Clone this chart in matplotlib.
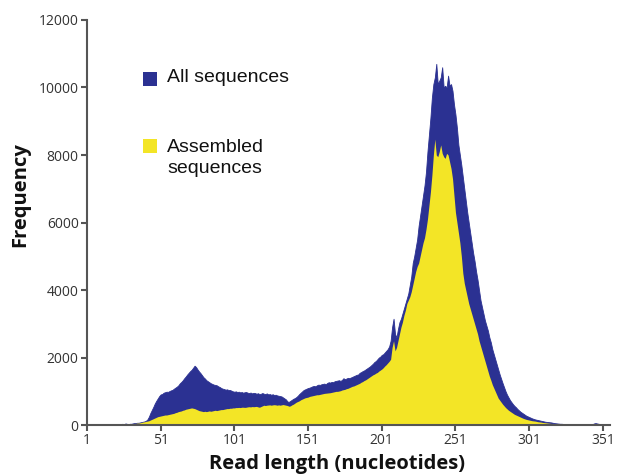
import numpy as np
import matplotlib.pyplot as plt
from matplotlib.patches import Rectangle

# read length histogram (nucleotides 20..350)
read_length = np.arange(20, 351)

all_sequences = [
    0, 0, 0, 0, 0, 40, 0, 50, 40, 0,
    40, 40, 50, 60, 60, 70, 70, 80, 90, 100,
    110, 130, 170, 250, 360, 450, 540, 640, 720, 790,
    860, 910, 920, 960, 975, 990, 985, 1010, 1030, 1045,
    1080, 1110, 1140, 1180, 1240, 1280, 1330, 1390, 1440, 1500,
    1550, 1600, 1640, 1700, 1760, 1720, 1650, 1590, 1540, 1480,
    1420, 1380, 1330, 1300, 1270, 1240, 1220, 1200, 1190, 1180,
    1150, 1130, 1100, 1080, 1070, 1050, 1060, 1040, 1040, 1020,
    1000, 990, 1000, 980, 990, 970, 980, 960, 975, 980,
    960, 950, 965, 940, 955, 950, 930, 945, 920, 930,
    950, 930, 920, 940, 910, 920, 900, 915, 890, 900,
    880, 870, 860, 850, 820, 790, 760, 700, 690, 720,
    750, 780, 800, 830, 870, 920, 960, 1000, 1040, 1060,
    1080, 1100, 1110, 1130, 1150, 1160, 1150, 1180, 1200, 1190,
    1210, 1220, 1230, 1210, 1250, 1270, 1260, 1280, 1270, 1300,
    1310, 1320, 1330, 1310, 1340, 1390, 1360, 1380, 1400, 1390,
    1410, 1430, 1450, 1470, 1490, 1500, 1550, 1570, 1600, 1620,
    1650, 1680, 1710, 1740, 1780, 1820, 1870, 1900, 1950, 2000,
    2030, 2080, 2100, 2150, 2200, 2250, 2330, 2500, 2900, 3150,
    2700, 2600, 2850, 3050, 3150, 3300, 3450, 3600, 3750, 3900,
    4150, 4400, 4800, 5000, 5250, 5500, 5900, 6200, 6500, 6800,
    7100, 7500, 8100, 8600, 9100, 9700, 10100, 10300, 10700, 10100,
    10200, 10300, 10600, 10000, 10050, 10000, 10350, 10050, 10100, 9900,
    9500, 9200, 8800, 8300, 8000, 7700, 7350, 7000, 6650, 6300,
    6000, 5700, 5400, 5100, 4850, 4550, 4300, 4000, 3700, 3500,
    3300, 3100, 2950, 2800, 2600, 2450, 2250, 2100, 1950, 1800,
    1650, 1500, 1370, 1240, 1120, 1000, 900, 820, 740, 680,
    620, 570, 530, 480, 440, 400, 370, 340, 310, 280,
    260, 240, 220, 200, 185, 170, 160, 150, 140, 130,
    120, 110, 100, 95, 90, 85, 80, 70, 60, 55,
    50, 45, 40, 40, 35, 30, 30, 25, 25, 20,
    20, 20, 20, 20, 20, 20, 20, 20, 20, 20,
    20, 20, 20, 20, 30, 50, 60, 50, 40, 30, 20,
]

assembled_sequences = [
    0, 0, 0, 0, 0, 10, 10, 20, 20, 30,
    30, 40, 40, 50, 50, 60, 60, 70, 80, 90,
    100, 110, 120, 130, 150, 170, 190, 210, 230, 250,
    260, 270, 280, 290, 300, 300, 310, 320, 330, 340,
    350, 370, 380, 400, 410, 420, 440, 450, 470, 480,
    490, 500, 510, 500, 490, 470, 450, 430, 420, 410,
    400, 410, 400, 410, 420, 410, 420, 430, 440, 430,
    440, 450, 460, 460, 470, 480, 490, 490, 500, 500,
    510, 510, 520, 520, 525, 520, 530, 530, 525, 530,
    540, 545, 540, 550, 545, 550, 555, 540, 530, 550,
    570, 590, 580, 590, 595, 600, 590, 600, 605, 600,
    590, 600, 590, 600, 610, 600, 590, 580, 560, 570,
    600, 620, 650, 680, 700, 720, 750, 770, 790, 810,
    820, 830, 850, 860, 870, 880, 890, 900, 900, 910,
    920, 930, 940, 945, 950, 955, 960, 970, 980, 990,
    1000, 1000, 1010, 1020, 1040, 1050, 1060, 1080, 1090, 1110,
    1130, 1150, 1160, 1180, 1200, 1220, 1240, 1270, 1290, 1320,
    1340, 1370, 1400, 1430, 1460, 1490, 1510, 1540, 1560, 1600,
    1630, 1660, 1700, 1750, 1790, 1840, 1890, 1950, 2300, 2500,
    2200, 2300, 2500, 2700, 2900, 3050, 3250, 3400, 3600, 3700,
    3800, 3950, 4150, 4350, 4550, 4700, 4800, 5000, 5200, 5400,
    5550, 5800, 6100, 6500, 6900, 7400, 8000, 8470, 8000, 7950,
    8100, 8300, 8050, 7950, 7900, 8050, 8000, 7800, 7600, 7300,
    6800, 6300, 6000, 5700, 5400, 5000, 4500, 4200, 4000, 3800,
    3600, 3450, 3300, 3150, 3000, 2850, 2700, 2500, 2350, 2200,
    2050, 1900, 1750, 1600, 1450, 1330, 1200, 1100, 1000, 900,
    800, 740, 680, 620, 570, 520, 480, 440, 410, 380,
    350, 320, 300, 280, 260, 240, 220, 200, 185, 170,
    160, 150, 140, 130, 125, 120, 110, 100, 95, 90,
    80, 75, 70, 65, 60, 55, 50, 45, 40, 40,
    35, 30, 30, 30, 25, 25, 20, 20, 20, 20,
    20, 20, 20, 20, 20, 20, 20, 20, 20, 20,
    20, 20, 20, 20, 20, 20, 20, 20, 20, 20, 20,
]

x_ticks = [1, 51, 101, 151, 201, 251, 301, 351]
y_ticks = [0, 2000, 4000, 6000, 8000, 10000, 12000]

blue = '#2b3192'
yellow = '#f3e526'
axis_grey = '#555555'

fig = plt.figure(figsize=(6.17, 4.75), dpi=100)
ax = fig.add_axes([0.141, 0.105, 0.848, 0.853])

ax.fill_between(read_length, 0, all_sequences, color=blue, lw=0.6, edgecolor=blue)
ax.fill_between(read_length, 0, assembled_sequences, color=yellow, lw=0)

ax.set_xlim(1, 356)
ax.set_ylim(0, 12000)
ax.set_xticks(x_ticks)
ax.set_yticks(y_ticks)
ax.set_xticklabels([str(t) for t in x_ticks], fontsize=10, family='Open Sans', color='#333333')
ax.set_yticklabels([str(t) for t in y_ticks], fontsize=10, family='Open Sans', color='#333333')
ax.tick_params(direction='out', length=4, width=1.5, color=axis_grey, pad=2)

for side in ['top', 'right']:
    ax.spines[side].set_visible(False)
for side in ['left', 'bottom']:
    ax.spines[side].set_color(axis_grey)
    ax.spines[side].set_linewidth(1.5)

# legend drawn by hand (squares + text)
ax.add_patch(Rectangle((0.107, 0.837), 0.027, 0.035, transform=ax.transAxes,
                       color=blue, lw=0, clip_on=False))
ax.text(0.153, 0.857, 'All sequences', transform=ax.transAxes, fontsize=14,
        family='Liberation Sans', va='center', ha='left', color='#111111')
ax.add_patch(Rectangle((0.107, 0.672), 0.027, 0.035, transform=ax.transAxes,
                       color=yellow, lw=0, clip_on=False))
ax.text(0.153, 0.707, 'Assembled\nsequences', transform=ax.transAxes, fontsize=14,
        family='Liberation Sans', va='top', ha='left', color='#111111', linespacing=1.35)

fig.text(337 / 617, (475 - 464) / 475, 'Read length (nucleotides)', fontsize=14.5,
         family='Open Sans', weight='bold', ha='center', va='center', color='#111111')
fig.text(20 / 617, (475 - 195) / 475, 'Frequency', fontsize=14.5, rotation=90,
         family='Open Sans', weight='bold', ha='center', va='center', color='#111111')

fig.savefig('out.png', dpi=100)
